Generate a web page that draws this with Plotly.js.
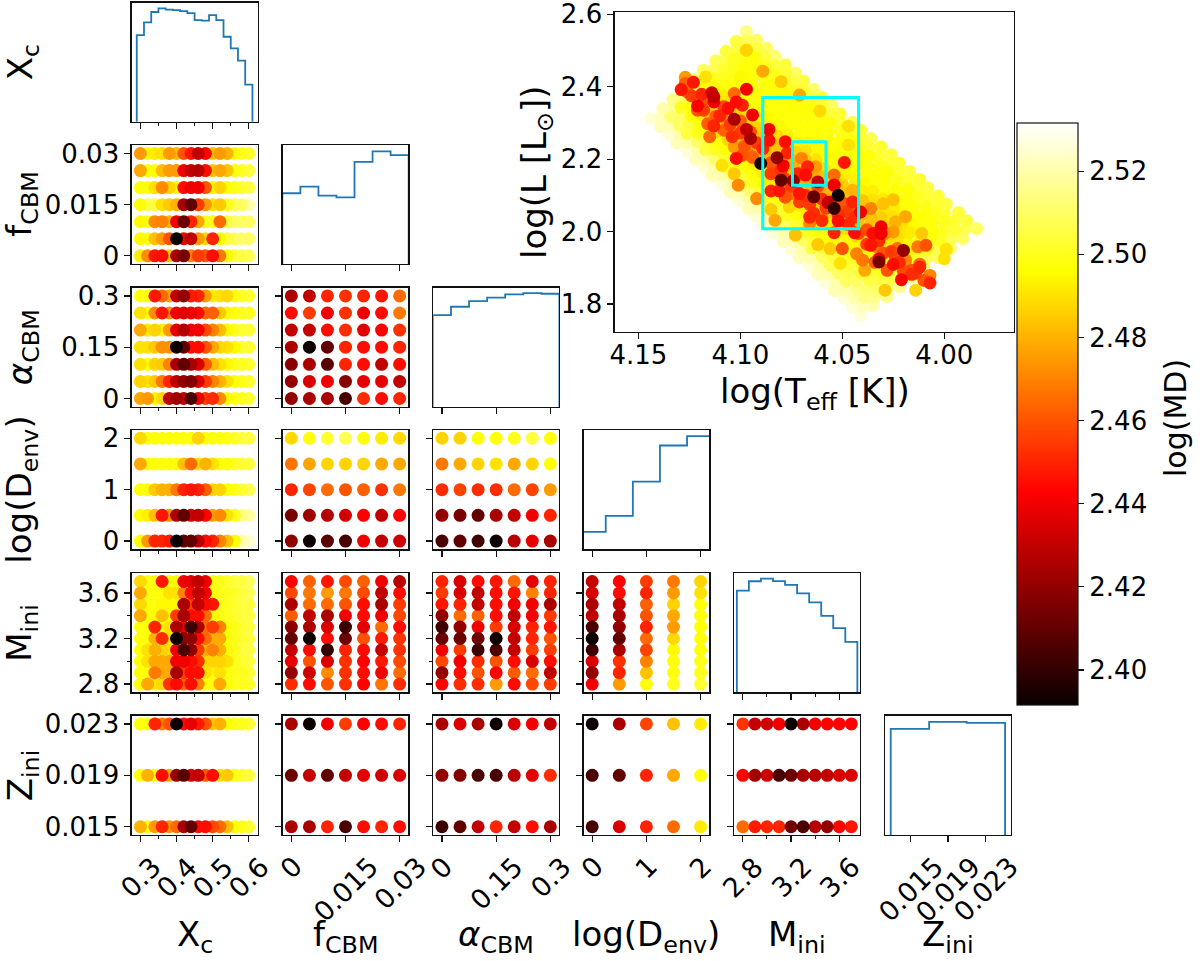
<!DOCTYPE html>
<html>
<head>
<meta charset="utf-8">
<script src="https://cdn.plot.ly/plotly-3.0.1.min.js"></script>
<style>html,body{margin:0;padding:0;background:#fff}#chart{width:1200px;height:961px}</style>
</head>
<body>
<div id="chart"></div>
<script>
// ---- grid values of each parameter ----
const xcGrid = [0.30,0.32,0.34,0.36,0.38,0.40,0.42,0.44,0.46,0.48,0.50,0.52,0.54,0.56,0.58,0.60];
const fGrid = [0,0.005,0.01,0.015,0.02,0.025,0.03];
const aGrid = [0,0.05,0.1,0.15,0.2,0.25,0.3];
const dGrid = [0,0.5,1,1.5,2];
const mGrid = [2.8,2.9,3.0,3.1,3.2,3.3,3.4,3.5,3.6,3.7];
const zGrid = [0.015,0.019,0.023];

// ---- log(MD) read per grid row; each row runs along the x-axis parameter, rows go up the y-axis ----
const fByXc = [
[2.492,2.472,2.447,2.445,2.485,2.425,2.415,2.47,2.455,2.46,2.445,2.468,2.495,2.505,2.506,2.508],
[2.495,2.5,2.483,2.475,2.46,2.392,2.44,2.43,2.475,2.488,2.45,2.495,2.505,2.51,2.51,2.51],
[2.495,2.5,2.472,2.47,2.48,2.44,2.412,2.45,2.478,2.5,2.5,2.465,2.505,2.51,2.51,2.51],
[2.496,2.508,2.505,2.49,2.485,2.48,2.425,2.41,2.455,2.475,2.49,2.485,2.5,2.508,2.51,2.52],
[2.497,2.497,2.49,2.472,2.487,2.495,2.445,2.44,2.44,2.46,2.495,2.487,2.497,2.5,2.503,2.505],
[2.478,2.497,2.497,2.482,2.475,2.475,2.44,2.43,2.428,2.445,2.485,2.478,2.484,2.498,2.502,2.505],
[2.475,2.495,2.492,2.49,2.475,2.482,2.46,2.447,2.43,2.443,2.484,2.475,2.48,2.495,2.5,2.502]];
const aByXc = [
[2.477,2.475,2.495,2.488,2.43,2.423,2.43,2.405,2.44,2.455,2.452,2.472,2.495,2.5,2.5,2.503],
[2.487,2.49,2.485,2.468,2.45,2.428,2.42,2.417,2.435,2.455,2.47,2.48,2.49,2.498,2.5,2.503],
[2.49,2.497,2.487,2.485,2.47,2.425,2.41,2.425,2.435,2.462,2.482,2.49,2.495,2.5,2.5,2.503],
[2.49,2.49,2.485,2.473,2.473,2.392,2.41,2.445,2.445,2.46,2.478,2.488,2.49,2.495,2.503,2.503],
[2.478,2.492,2.487,2.494,2.475,2.437,2.427,2.44,2.44,2.458,2.47,2.482,2.495,2.5,2.503,2.503],
[2.49,2.497,2.472,2.447,2.473,2.44,2.437,2.44,2.445,2.465,2.463,2.485,2.495,2.498,2.5,2.5],
[2.497,2.497,2.447,2.465,2.477,2.43,2.42,2.448,2.45,2.475,2.493,2.49,2.488,2.498,2.502,2.503]];
const dByXc = [
[2.497,2.475,2.45,2.45,2.448,2.392,2.41,2.41,2.428,2.445,2.45,2.47,2.483,2.497,2.52,2.525],
[2.497,2.493,2.483,2.447,2.475,2.425,2.41,2.432,2.43,2.443,2.478,2.472,2.49,2.5,2.515,2.518],
[2.497,2.497,2.485,2.48,2.48,2.468,2.45,2.447,2.45,2.462,2.487,2.487,2.497,2.5,2.503,2.507],
[2.478,2.497,2.497,2.497,2.497,2.497,2.483,2.465,2.49,2.48,2.49,2.497,2.497,2.502,2.503,2.505],
[2.488,2.497,2.497,2.497,2.497,2.497,2.497,2.497,2.487,2.497,2.497,2.497,2.5,2.502,2.505,2.505]];
const mByXc = [
[2.497,2.478,2.492,2.488,2.453,2.445,2.465,2.445,2.47,2.497,2.497,2.478,2.497,2.5,2.5,2.502],
[2.497,2.497,2.468,2.478,2.478,2.425,2.455,2.445,2.445,2.49,2.495,2.49,2.498,2.5,2.5,2.503],
[2.497,2.49,2.478,2.478,2.478,2.44,2.44,2.445,2.452,2.488,2.487,2.487,2.49,2.5,2.503,2.505],
[2.497,2.49,2.48,2.487,2.49,2.44,2.405,2.42,2.455,2.48,2.47,2.48,2.495,2.5,2.505,2.505],
[2.498,2.497,2.48,2.452,2.49,2.392,2.42,2.42,2.445,2.465,2.48,2.478,2.497,2.5,2.503,2.505],
[2.498,2.497,2.45,2.497,2.49,2.425,2.44,2.402,2.425,2.465,2.455,2.47,2.497,2.5,2.503,2.505],
[2.478,2.497,2.497,2.483,2.495,2.455,2.425,2.445,2.445,2.465,2.495,2.5,2.5,2.503,2.505,2.505],
[2.488,2.498,2.498,2.495,2.495,2.495,2.425,2.455,2.43,2.445,2.447,2.5,2.5,2.503,2.505,2.505],
[2.478,2.498,2.498,2.497,2.49,2.49,2.47,2.445,2.43,2.44,2.498,2.5,2.5,2.502,2.505,2.508],
[2.488,2.498,2.498,2.447,2.498,2.495,2.44,2.437,2.43,2.44,2.498,2.5,2.502,2.505,2.505,2.51]];
const zByXc = [
[2.48,2.497,2.475,2.45,2.475,2.465,2.425,2.41,2.445,2.445,2.458,2.465,2.482,2.497,2.5,2.503],
[2.497,2.48,2.497,2.445,2.478,2.42,2.408,2.435,2.43,2.462,2.445,2.49,2.485,2.5,2.503,2.505],
[2.497,2.497,2.45,2.47,2.46,2.392,2.445,2.438,2.448,2.46,2.485,2.48,2.497,2.5,2.5,2.503]];
const aByF = [
[2.42,2.425,2.425,2.405,2.452,2.445,2.45],
[2.42,2.435,2.44,2.418,2.438,2.437,2.43],
[2.418,2.425,2.408,2.45,2.445,2.43,2.445],
[2.425,2.392,2.41,2.45,2.445,2.445,2.45],
[2.43,2.43,2.445,2.452,2.437,2.442,2.453],
[2.445,2.455,2.44,2.453,2.44,2.445,2.468],
[2.425,2.43,2.45,2.453,2.45,2.447,2.465]];
const dByF = [
[2.42,2.392,2.408,2.405,2.44,2.43,2.432],
[2.415,2.423,2.427,2.433,2.442,2.43,2.443],
[2.45,2.457,2.465,2.46,2.463,2.453,2.468],
[2.467,2.477,2.487,2.487,2.487,2.478,2.478],
[2.488,2.497,2.503,2.507,2.497,2.492,2.488]];
const mByF = [
[2.452,2.445,2.46,2.453,2.443,2.467,2.452],
[2.42,2.432,2.472,2.453,2.445,2.44,2.465],
[2.437,2.46,2.435,2.453,2.443,2.448,2.458],
[2.43,2.445,2.4,2.45,2.445,2.43,2.453],
[2.41,2.392,2.445,2.412,2.46,2.448,2.453],
[2.418,2.425,2.435,2.402,2.437,2.465,2.445],
[2.462,2.43,2.425,2.44,2.445,2.44,2.458],
[2.425,2.465,2.465,2.46,2.445,2.425,2.455],
[2.458,2.468,2.475,2.468,2.458,2.43,2.445],
[2.443,2.463,2.447,2.458,2.463,2.44,2.428]];
const zByF = [
[2.425,2.425,2.45,2.405,2.445,2.45,2.445],
[2.412,2.43,2.41,2.43,2.437,2.432,2.435],
[2.425,2.392,2.44,2.455,2.443,2.445,2.45]];
const dByA = [
[2.405,2.41,2.403,2.392,2.428,2.438,2.425],
[2.42,2.415,2.41,2.425,2.43,2.44,2.45],
[2.452,2.457,2.452,2.452,2.465,2.457,2.475],
[2.468,2.478,2.487,2.49,2.478,2.487,2.497],
[2.487,2.487,2.497,2.497,2.5,2.505,2.497]];
const mByA = [
[2.443,2.452,2.452,2.475,2.445,2.458,2.455],
[2.42,2.445,2.46,2.443,2.462,2.465,2.43],
[2.458,2.44,2.452,2.46,2.445,2.435,2.445],
[2.44,2.455,2.402,2.405,2.43,2.455,2.455],
[2.412,2.412,2.412,2.392,2.43,2.45,2.46],
[2.403,2.42,2.44,2.455,2.435,2.45,2.447],
[2.42,2.465,2.463,2.445,2.43,2.44,2.455],
[2.447,2.45,2.43,2.445,2.44,2.44,2.425],
[2.455,2.435,2.43,2.445,2.447,2.47,2.45],
[2.45,2.435,2.445,2.447,2.465,2.437,2.45]];
const zByA = [
[2.402,2.41,2.43,2.45,2.43,2.445,2.425],
[2.42,2.417,2.405,2.405,2.428,2.437,2.452],
[2.425,2.435,2.425,2.392,2.435,2.44,2.43]];
const mByD = [
[2.44,2.475,2.497,2.5,2.503],
[2.42,2.45,2.483,2.497,2.5],
[2.435,2.453,2.47,2.497,2.5],
[2.402,2.425,2.457,2.495,2.497],
[2.392,2.41,2.465,2.488,2.497],
[2.405,2.42,2.45,2.475,2.497],
[2.43,2.425,2.46,2.478,2.497],
[2.425,2.43,2.463,2.487,2.497],
[2.435,2.445,2.45,2.475,2.49],
[2.43,2.443,2.455,2.468,2.487]];
const zByD = [
[2.405,2.435,2.45,2.465,2.492],
[2.405,2.41,2.45,2.478,2.497],
[2.392,2.425,2.457,2.483,2.492]];
const zByM = [
[2.465,2.448,2.45,2.45,2.413,2.405,2.427,2.42,2.443,2.447],
[2.443,2.423,2.432,2.405,2.412,2.425,2.428,2.43,2.435,2.435],
[2.453,2.43,2.433,2.44,2.392,2.425,2.44,2.443,2.443,2.443]];

// ---- marginal step histograms: bin edges and relative heights ----
const xcEdges = [0.29,0.31,0.33,0.35,0.37,0.39,0.41,0.43,0.45,0.47,0.49,0.51,0.53,0.55,0.57,0.59,0.61];
const xcHist = [0.728,0.835,0.922,0.952,0.941,0.938,0.93,0.913,0.854,0.849,0.896,0.854,0.714,0.616,0.513,0.311];
const fEdges = [-0.0025,0.0025,0.0075,0.0125,0.0175,0.0225,0.0275,0.0325];
const fHist = [0.596,0.652,0.576,0.562,0.86,0.948,0.917];
const aEdges = [-0.025,0.025,0.075,0.125,0.175,0.225,0.275,0.325];
const aHist = [0.77,0.84,0.888,0.916,0.944,0.955,0.949];
const dEdges = [-0.25,0.25,0.75,1.25,1.75,2.25];
const dHist = [0.146,0.281,0.567,0.87,0.949];
const mEdges = [2.75,2.85,2.95,3.05,3.15,3.25,3.35,3.45,3.55,3.65,3.75];
const mHist = [0.854,0.933,0.955,0.935,0.902,0.832,0.756,0.643,0.539,0.424];
const zEdges = [0.0129,0.017,0.021,0.0251];
const zHist = [0.889,0.948,0.94];

// ---- HR diagram: models ----
const hrdTeff = [
4.144,4.138,4.133,4.128,4.123,4.118,4.112,4.107,4.102,4.097,
4.139,4.134,4.129,4.124,4.118,4.113,4.108,4.103,4.097,4.092,
4.135,4.130,4.124,4.119,4.114,4.108,4.103,4.098,4.093,4.087,
4.131,4.126,4.120,4.115,4.110,4.104,4.099,4.094,4.088,4.083,
4.126,4.121,4.116,4.110,4.105,4.099,4.094,4.088,4.083,4.078,
4.122,4.117,4.111,4.106,4.100,4.095,4.090,4.084,4.079,4.073,
4.118,4.113,4.107,4.102,4.096,4.091,4.085,4.080,4.074,4.069,
4.114,4.108,4.103,4.097,4.092,4.086,4.081,4.075,4.070,4.064,
4.109,4.104,4.098,4.093,4.087,4.082,4.076,4.071,4.065,4.060,
4.105,4.099,4.094,4.088,4.083,4.077,4.071,4.066,4.060,4.055,
4.101,4.095,4.090,4.084,4.079,4.073,4.067,4.062,4.056,4.051,
4.096,4.091,4.085,4.079,4.073,4.068,4.062,4.056,4.051,4.045,
4.092,4.086,4.081,4.075,4.069,4.064,4.058,4.052,4.046,4.041,
4.088,4.082,4.076,4.071,4.065,4.059,4.053,4.047,4.042,4.036,
4.084,4.078,4.072,4.066,4.060,4.055,4.049,4.043,4.037,4.031,
4.079,4.073,4.067,4.061,4.056,4.050,4.044,4.038,4.032,4.026,
4.075,4.069,4.063,4.057,4.051,4.045,4.040,4.034,4.028,4.022,
4.071,4.065,4.059,4.053,4.047,4.041,4.035,4.029,4.023,4.017,
4.066,4.060,4.054,4.048,4.042,4.036,4.030,4.024,4.018,4.012,
4.062,4.056,4.050,4.044,4.038,4.032,4.026,4.020,4.014,4.008,
4.058,4.052,4.046,4.040,4.033,4.027,4.021,4.015,4.009,4.003,
4.054,4.048,4.041,4.035,4.029,4.023,4.017,4.011,4.005,3.999,
4.049,4.043,4.037,4.031,4.024,4.018,4.012,4.006,4.000,3.993,
4.045,4.039,4.033,4.026,4.020,4.014,4.008,4.002,3.995,3.989,
4.041,4.035,4.028,4.022,4.016,4.010,4.003,3.997,3.991,3.984,
// between the tracks
4.139,4.133,4.128,4.123,4.118,4.113,4.107,4.102,4.097,
4.134,4.129,4.124,4.119,4.113,4.108,4.103,4.098,4.092,
4.130,4.125,4.119,4.114,4.109,4.103,4.098,4.093,4.088,
4.126,4.121,4.115,4.110,4.105,4.099,4.094,4.089,4.083,
4.121,4.116,4.111,4.105,4.100,4.094,4.089,4.083,4.078,
4.117,4.112,4.106,4.101,4.095,4.090,4.085,4.079,4.074,
4.113,4.108,4.102,4.097,4.091,4.086,4.080,4.075,4.069,
4.109,4.103,4.098,4.092,4.087,4.081,4.076,4.070,4.065,
4.104,4.099,4.093,4.088,4.082,4.077,4.071,4.066,4.060,
4.100,4.094,4.089,4.083,4.078,4.072,4.066,4.061,4.055,
4.096,4.090,4.085,4.079,4.074,4.068,4.062,4.057,4.051,
4.091,4.086,4.080,4.074,4.068,4.063,4.057,4.051,4.046,
4.087,4.081,4.076,4.070,4.064,4.059,4.053,4.047,4.041,
4.083,4.077,4.071,4.066,4.060,4.054,4.048,4.042,4.037,
4.079,4.073,4.067,4.061,4.055,4.050,4.044,4.038,4.032,
4.074,4.068,4.062,4.056,4.051,4.045,4.039,4.033,4.027,
4.070,4.064,4.058,4.052,4.046,4.040,4.035,4.029,4.023,
4.066,4.060,4.054,4.048,4.042,4.036,4.030,4.024,4.018,
4.061,4.055,4.049,4.043,4.037,4.031,4.025,4.019,4.013,
4.057,4.051,4.045,4.039,4.033,4.027,4.021,4.015,4.009,
4.053,4.047,4.041,4.035,4.028,4.022,4.016,4.010,4.004,
4.049,4.043,4.036,4.030,4.024,4.018,4.012,4.006,4.000,
4.044,4.038,4.032,4.026,4.019,4.013,4.007,4.001,3.995,
4.040,4.034,4.028,4.021,4.015,4.009,4.003,3.997,3.990,
// amber
4.097,4.089,4.080,4.071,4.061,4.047,4.047,4.109,4.103,4.101,4.092,4.085,4.083,4.073,4.062,4.056,4.030,4.025,4.019,4.024,4.011,3.999,4.000,4.029,4.014,4.039,4.051,4.076,4.117,4.100,
// orange
4.127,4.127,4.126,4.121,4.116,4.115,4.109,4.108,4.103,4.104,4.103,4.099,4.095,4.084,4.080,4.070,4.071,4.063,4.075,4.071,4.064,4.066,4.060,4.054,4.054,4.049,4.050,4.043,4.045,4.036,4.043,4.040,4.033,4.029,4.025,4.023,4.028,4.024,4.019,4.013,4.009,4.016,4.007,
// red
4.129,4.123,4.119,4.121,4.113,4.114,4.110,4.113,4.106,4.102,4.099,4.097,4.094,4.102,4.086,4.086,4.089,4.078,4.077,4.079,4.085,4.081,4.071,4.067,4.068,4.072,4.049,4.056,4.052,4.054,4.047,4.044,4.045,4.041,4.035,4.031,4.031,4.036,4.025,4.021,4.016,4.012,4.007,4.054,
// dark
4.103,4.113,4.097,4.095,4.090,4.082,4.080,4.074,4.062,4.064,4.052,4.054,4.057,4.032,4.020,4.032,
// ridge, orange-red
4.124,4.118,4.118,4.112,4.108,4.105,4.100,4.100,4.095,4.092,4.098,4.094,4.085,
4.085,4.080,4.078,4.072,4.075,4.068,4.078,4.062,4.066,4.060,4.058,4.066,4.060,4.050,4.052,4.048,4.044,
4.042,4.038,4.038,4.032,4.030,4.026,4.034,4.022,4.020,4.014,4.012,4.010];
const hrdLogL = [
2.312,2.339,2.365,2.392,2.419,2.445,2.472,2.498,2.525,2.552,
2.290,2.316,2.343,2.370,2.396,2.423,2.449,2.476,2.503,2.529,
2.267,2.294,2.320,2.347,2.373,2.400,2.427,2.453,2.480,2.506,
2.244,2.271,2.297,2.324,2.351,2.377,2.404,2.430,2.457,2.484,
2.222,2.248,2.275,2.301,2.328,2.355,2.381,2.408,2.435,2.461,
2.199,2.226,2.252,2.279,2.305,2.332,2.359,2.385,2.412,2.438,
2.176,2.203,2.229,2.256,2.283,2.309,2.336,2.362,2.389,2.416,
2.154,2.180,2.207,2.233,2.260,2.287,2.313,2.340,2.367,2.393,
2.131,2.158,2.184,2.211,2.237,2.264,2.291,2.317,2.344,2.370,
2.108,2.135,2.161,2.188,2.215,2.241,2.268,2.294,2.321,2.348,
2.086,2.112,2.139,2.165,2.192,2.219,2.245,2.272,2.299,2.325,
2.063,2.090,2.116,2.143,2.169,2.196,2.223,2.249,2.276,2.302,
2.040,2.067,2.093,2.120,2.147,2.173,2.200,2.226,2.253,2.280,
2.018,2.044,2.071,2.097,2.124,2.151,2.177,2.204,2.231,2.257,
1.995,2.022,2.048,2.075,2.101,2.128,2.155,2.181,2.208,2.234,
1.972,1.999,2.025,2.052,2.079,2.105,2.132,2.158,2.185,2.212,
1.950,1.976,2.003,2.029,2.056,2.083,2.109,2.136,2.163,2.189,
1.927,1.954,1.980,2.007,2.033,2.060,2.087,2.113,2.140,2.166,
1.904,1.931,1.957,1.984,2.011,2.037,2.064,2.090,2.117,2.144,
1.882,1.908,1.935,1.961,1.988,2.015,2.041,2.068,2.095,2.121,
1.859,1.886,1.912,1.939,1.965,1.992,2.019,2.045,2.072,2.098,
1.836,1.863,1.889,1.916,1.943,1.969,1.996,2.022,2.049,2.076,
1.814,1.840,1.867,1.893,1.920,1.947,1.973,2.000,2.027,2.053,
1.791,1.818,1.844,1.871,1.897,1.924,1.951,1.977,2.004,2.030,
1.768,1.795,1.821,1.848,1.875,1.901,1.928,1.954,1.981,2.008,
// between the tracks
2.314,2.341,2.367,2.394,2.421,2.447,2.474,2.500,2.527,
2.292,2.318,2.345,2.372,2.398,2.425,2.451,2.478,2.505,
2.269,2.296,2.322,2.349,2.375,2.402,2.429,2.455,2.482,
2.246,2.273,2.299,2.326,2.353,2.379,2.406,2.432,2.459,
2.224,2.250,2.277,2.303,2.330,2.357,2.383,2.410,2.437,
2.201,2.228,2.254,2.281,2.307,2.334,2.361,2.387,2.414,
2.178,2.205,2.231,2.258,2.285,2.311,2.338,2.364,2.391,
2.156,2.182,2.209,2.235,2.262,2.289,2.315,2.342,2.369,
2.133,2.160,2.186,2.213,2.239,2.266,2.293,2.319,2.346,
2.110,2.137,2.163,2.190,2.217,2.243,2.270,2.296,2.323,
2.088,2.114,2.141,2.167,2.194,2.221,2.247,2.274,2.301,
2.065,2.092,2.118,2.145,2.171,2.198,2.225,2.251,2.278,
2.042,2.069,2.095,2.122,2.149,2.175,2.202,2.228,2.255,
2.020,2.046,2.073,2.099,2.126,2.153,2.179,2.206,2.233,
1.997,2.024,2.050,2.077,2.103,2.130,2.157,2.183,2.210,
1.974,2.001,2.027,2.054,2.081,2.107,2.134,2.160,2.187,
1.952,1.978,2.005,2.031,2.058,2.085,2.111,2.138,2.165,
1.929,1.956,1.982,2.009,2.035,2.062,2.089,2.115,2.142,
1.906,1.933,1.959,1.986,2.013,2.039,2.066,2.092,2.119,
1.884,1.910,1.937,1.963,1.990,2.017,2.043,2.070,2.097,
1.861,1.888,1.914,1.941,1.967,1.994,2.021,2.047,2.074,
1.838,1.865,1.891,1.918,1.945,1.971,1.998,2.024,2.051,
1.816,1.842,1.869,1.895,1.922,1.949,1.975,2.002,2.029,
1.793,1.820,1.846,1.873,1.899,1.926,1.953,1.979,2.006,
// amber
2.501,2.443,2.414,2.377,2.333,2.291,2.239,2.183,2.160,2.128,2.091,2.061,2.031,1.990,1.964,1.953,2.077,2.088,2.041,2.027,1.995,1.951,1.925,1.838,1.838,1.893,1.912,2.068,2.427,2.427,
// orange
2.426,2.409,2.386,2.335,2.298,2.262,2.317,2.280,2.381,2.262,2.234,2.211,2.211,2.165,2.123,2.202,2.160,2.179,2.105,2.082,2.050,2.022,2.036,2.156,2.128,2.054,1.953,2.050,2.114,2.064,1.939,1.921,1.958,1.995,1.999,1.953,1.893,1.930,1.921,1.958,1.962,1.893,1.879,
// red
2.392,2.412,2.379,2.347,2.358,2.383,2.320,2.292,2.340,2.358,2.349,2.393,2.322,2.202,2.282,2.252,2.229,2.248,2.217,2.182,2.112,2.112,2.105,2.179,2.156,2.160,2.191,2.082,2.029,1.997,2.020,1.997,2.082,2.054,1.995,2.013,1.995,1.962,1.909,1.867,1.882,1.902,1.858,2.128,
// dark
2.310,2.372,2.282,2.257,2.188,2.204,2.142,2.140,2.137,2.096,2.100,2.064,2.080,1.916,1.948,1.925,
// ridge, orange-red
2.375,2.365,2.335,2.318,2.345,2.295,2.305,2.272,2.275,2.245,2.235,2.205,2.190,
2.160,2.170,2.145,2.155,2.125,2.100,2.095,2.125,2.075,2.090,2.065,2.040,2.030,2.080,2.045,2.055,2.040,
1.995,2.005,1.965,1.975,1.940,1.945,1.915,1.915,1.890,1.885,1.910,1.865];
const hrdLogMD = [
2.526,2.52,2.515,2.51,2.508,2.508,2.508,2.505,2.505,2.515,
2.522,2.512,2.5,2.497,2.497,2.5,2.503,2.5,2.5,2.51,
2.526,2.51,2.497,2.49,2.49,2.497,2.5,2.497,2.497,2.51,
2.522,2.505,2.497,2.485,2.488,2.495,2.497,2.497,2.5,2.512,
2.526,2.51,2.497,2.485,2.485,2.495,2.497,2.497,2.5,2.505,
2.522,2.505,2.497,2.482,2.484,2.495,2.497,2.497,2.5,2.51,
2.526,2.512,2.497,2.485,2.483,2.493,2.497,2.497,2.5,2.505,
2.522,2.505,2.497,2.487,2.483,2.49,2.497,2.497,2.5,2.51,
2.526,2.51,2.497,2.49,2.482,2.488,2.497,2.497,2.497,2.503,
2.522,2.505,2.497,2.49,2.483,2.487,2.497,2.497,2.5,2.51,
2.526,2.51,2.497,2.49,2.482,2.487,2.495,2.497,2.497,2.503,
2.522,2.505,2.497,2.49,2.48,2.485,2.495,2.497,2.5,2.508,
2.526,2.51,2.497,2.49,2.48,2.485,2.495,2.497,2.497,2.503,
2.522,2.505,2.497,2.49,2.48,2.483,2.495,2.497,2.5,2.507,
2.526,2.51,2.497,2.49,2.482,2.483,2.493,2.497,2.497,2.503,
2.522,2.505,2.497,2.49,2.483,2.483,2.493,2.497,2.5,2.505,
2.526,2.51,2.497,2.492,2.483,2.482,2.492,2.497,2.497,2.503,
2.522,2.505,2.497,2.492,2.485,2.482,2.49,2.497,2.5,2.505,
2.526,2.51,2.5,2.495,2.487,2.483,2.49,2.497,2.497,2.503,
2.522,2.508,2.5,2.495,2.488,2.485,2.49,2.497,2.5,2.505,
2.526,2.51,2.503,2.497,2.49,2.487,2.49,2.497,2.5,2.503,
2.522,2.51,2.502,2.497,2.492,2.49,2.492,2.497,2.5,2.505,
2.526,2.515,2.505,2.5,2.495,2.493,2.495,2.497,2.5,2.505,
2.526,2.515,2.51,2.505,2.5,2.5,2.5,2.5,2.503,2.505,
2.526,2.52,2.515,2.515,2.512,2.51,2.51,2.51,2.51,2.51,
// between the tracks
2.522,2.518,2.512,2.51,2.508,2.508,2.506,2.505,2.508,
2.522,2.51,2.497,2.492,2.495,2.5,2.5,2.5,2.505,
2.52,2.505,2.492,2.488,2.492,2.497,2.497,2.497,2.505,
2.52,2.5,2.488,2.483,2.49,2.497,2.497,2.497,2.505,
2.52,2.503,2.488,2.483,2.488,2.497,2.497,2.497,2.503,
2.52,2.5,2.488,2.48,2.488,2.497,2.497,2.497,2.505,
2.52,2.503,2.49,2.48,2.486,2.495,2.497,2.497,2.503,
2.52,2.5,2.492,2.48,2.485,2.495,2.497,2.497,2.505,
2.52,2.503,2.492,2.48,2.483,2.493,2.497,2.497,2.503,
2.52,2.5,2.492,2.48,2.483,2.493,2.497,2.497,2.505,
2.52,2.503,2.492,2.482,2.48,2.49,2.497,2.497,2.503,
2.52,2.5,2.492,2.482,2.478,2.49,2.497,2.497,2.503,
2.52,2.503,2.492,2.484,2.478,2.49,2.495,2.497,2.503,
2.52,2.5,2.492,2.484,2.478,2.488,2.495,2.497,2.503,
2.52,2.503,2.492,2.486,2.48,2.486,2.495,2.497,2.503,
2.52,2.5,2.492,2.486,2.48,2.486,2.495,2.497,2.503,
2.52,2.503,2.495,2.488,2.48,2.484,2.493,2.497,2.503,
2.52,2.503,2.495,2.488,2.482,2.484,2.492,2.497,2.503,
2.52,2.505,2.497,2.49,2.484,2.486,2.492,2.497,2.503,
2.52,2.505,2.497,2.492,2.486,2.488,2.492,2.497,2.503,
2.52,2.507,2.5,2.495,2.49,2.49,2.495,2.497,2.503,
2.52,2.51,2.503,2.497,2.495,2.495,2.495,2.497,2.503,
2.52,2.512,2.505,2.503,2.5,2.5,2.5,2.5,2.503,
2.522,2.515,2.512,2.51,2.508,2.507,2.507,2.507,2.507,
// amber
2.487,2.478,2.485,2.478,2.488,2.49,2.49,2.49,2.485,2.472,2.472,2.485,2.478,2.483,2.485,2.485,2.483,2.483,2.478,2.48,2.485,2.49,2.49,2.485,2.487,2.478,2.49,2.487,2.49,2.495,
// orange
2.475,2.462,2.465,2.46,2.462,2.465,2.47,2.463,2.465,2.452,2.475,2.46,2.47,2.47,2.472,2.47,2.465,2.475,2.465,2.455,2.452,2.47,2.47,2.465,2.458,2.465,2.46,2.465,2.48,2.47,2.47,2.468,2.47,2.472,2.475,2.465,2.46,2.46,2.47,2.468,2.46,2.46,2.47,
// red
2.447,2.447,2.45,2.442,2.44,2.435,2.45,2.45,2.445,2.445,2.45,2.44,2.44,2.445,2.44,2.445,2.45,2.445,2.45,2.44,2.45,2.447,2.447,2.45,2.445,2.45,2.447,2.44,2.445,2.45,2.45,2.445,2.45,2.44,2.445,2.44,2.44,2.447,2.445,2.443,2.452,2.45,2.45,2.44,
// dark
2.425,2.43,2.43,2.425,2.395,2.42,2.41,2.42,2.43,2.41,2.392,2.4,2.43,2.415,2.42,2.44,
// ridge, orange-red
2.455,2.46,2.455,2.462,2.458,2.455,2.462,2.455,2.46,2.455,2.46,2.462,2.46,
2.455,2.452,2.458,2.46,2.455,2.452,2.46,2.458,2.455,2.452,2.455,2.45,2.452,2.46,2.452,2.455,2.452,
2.458,2.46,2.455,2.452,2.46,2.455,2.462,2.452,2.458,2.455,2.465,2.46];

// cyan boxes on the HR diagram: [Teff hot, Teff cool, logL low, logL high]
const outerBox = [4.089,4.042,2.008,2.370];
const innerBox = [4.0744,4.058,2.128,2.248];

// ---- ticks and labels ----
const colorTicks = [2.40,2.42,2.44,2.46,2.48,2.50,2.52];
const colorTickText = ['2.40','2.42','2.44','2.46','2.48','2.50','2.52'];
const hrdXTicks = [4.15,4.10,4.05,4.00];
const hrdXText = ['4.15','4.10','4.05','4.00'];
const hrdYTicks = [1.8,2.0,2.2,2.4,2.6];
const hrdYText = ['1.8','2.0','2.2','2.4','2.6'];
const paramNames = ['X<sub>c</sub>','f<sub>CBM</sub>','<i>α</i><sub>CBM</sub>','log(D<sub>env</sub>)','M<sub>ini</sub>','Z<sub>ini</sub>'];
const paramTicks = [[0.3,0.4,0.5,0.6],[0,0.015,0.03],[0,0.15,0.3],[0,1,2],[2.8,3.2,3.6],[0.015,0.019,0.023]];
const paramTickText = [['0.3','0.4','0.5','0.6'],['0','0.015','0.03'],['0','0.15','0.3'],['0','1','2'],['2.8','3.2','3.6'],['0.015','0.019','0.023']];
const paramMinor = [[0.35,0.45,0.55],[],[],[],[3.0,3.4],[]];
const paramGrid = [xcGrid,fGrid,aGrid,dGrid,mGrid,zGrid];
const paramRange = [[0.276,0.624],[-0.0024,0.0324],[-0.024,0.324],[-0.16,2.16],[2.728,3.772],[0.01229,0.0257]];
const yRange = [null,[-0.0024,0.0324],[-0.024,0.324],[-0.16,2.16],[2.728,3.772],[0.01436,0.02364]];
const histEdges = [xcEdges,fEdges,aEdges,dEdges,mEdges,zEdges];
const histVals = [xcHist,fHist,aHist,dHist,mHist,zHist];
const tables = {'1,0':fByXc,'2,0':aByXc,'3,0':dByXc,'4,0':mByXc,'5,0':zByXc,'2,1':aByF,'3,1':dByF,'4,1':mByF,'5,1':zByF,'3,2':dByA,'4,2':mByA,'5,2':zByA,'4,3':mByD,'5,3':zByD,'5,4':zByM};

// ---- layout geometry (pixels in the 1200x961 page) ----
const W = 1200, H = 961;
const colPx = [[131.7,257.5],[282.7,408.3],[433.3,559],[583.5,709.3],[734.2,860],[885,1010.7]];
const rowPx = [[2.7,121.7],[145.3,264],[287.7,406.7],[430,549.3],[573.3,692.3],[715.7,835]];
const hrdPx = {x:[614.7,1014],y:[12.3,331.7]};
const INK = '#111';
const FONT = '"DejaVu Sans", sans-serif';
const tickFs = 26, rotFs = 27, titleFs = 34;
const domX = p => [p[0]/W, p[1]/W];
const domY = p => [1-p[1]/H, 1-p[0]/H];

const hotScale = [[0,'rgb(10,0,0)'],[0.365079,'rgb(255,0,0)'],[0.746032,'rgb(255,255,0)'],[1,'rgb(255,255,255)']];
const layout = {
  width:W, height:H, showlegend:false, paper_bgcolor:'#fff', plot_bgcolor:'#fff',
  margin:{l:0,r:0,t:0,b:0,pad:0}, font:{family:FONT,color:'#000',size:tickFs},
  coloraxis:{cmin:2.3916,cmax:2.5316,colorscale:hotScale,
    colorbar:{x:1017/W,xanchor:'left',y:1-122.9/H,yanchor:'top',xpad:0,ypad:0,
      thicknessmode:'pixels',thickness:61,lenmode:'pixels',len:582,
      outlinecolor:INK,outlinewidth:1.2,ticks:'outside',ticklen:6,tickwidth:1.2,tickcolor:INK,
      tickmode:'array',tickvals:colorTicks,ticktext:colorTickText,tickfont:{size:tickFs,family:FONT}}},
  annotations:[], shapes:[]
};
const data = [];
function note(text,x,y,xref,yref,size,angle,xa,ya){
  layout.annotations.push({text,x,y,xref,yref,showarrow:false,textangle:angle||0,
    font:{size,family:FONT,color:'#000'},xanchor:xa||'center',yanchor:ya||'middle',borderpad:0,borderwidth:0});
}
function baseAxis(extra){
  return Object.assign({showgrid:false,zeroline:false,showline:true,mirror:true,linecolor:INK,linewidth:1.3,
    ticks:'outside',ticklen:6,tickwidth:1.2,tickcolor:INK,tickmode:'array',tickfont:{size:tickFs,family:FONT},fixedrange:true},extra);
}
let n = 0;
for(let r=0;r<6;r++){
  for(let c=0;c<=r;c++){
    n++;
    const xa = 'x'+n, ya = 'y'+n;
    const isDiag = r===c;
    layout['xaxis'+n] = baseAxis({domain:domX(colPx[c]),range:paramRange[c],anchor:ya,
      tickvals:paramTicks[c],ticktext:paramTickText[c],showticklabels:false,
      minor:{tickmode:'array',tickvals:paramMinor[c],ticks:'outside',ticklen:3,tickwidth:1,tickcolor:INK,showgrid:false}});
    if(isDiag){
      layout['yaxis'+n] = baseAxis({domain:domY(rowPx[r]),range:[0,1],anchor:xa,ticks:'',showticklabels:false});
      const ed = histEdges[c], hv = histVals[c];
      const hx = [ed[0]], hy = [0];
      hv.forEach((v,i)=>{hx.push(ed[i]);hy.push(v);});
      hx.push(ed[ed.length-1]);hy.push(hv[hv.length-1]);
      hx.push(ed[ed.length-1]);hy.push(0);
      data.push({type:'scatter',mode:'lines',x:hx,y:hy,xaxis:xa,yaxis:ya,line:{color:'#1f77b4',width:1.8,shape:'hv'},hoverinfo:'skip'});
    } else {
      layout['yaxis'+n] = baseAxis({domain:domY(rowPx[r]),range:yRange[r],anchor:xa,
        tickvals:paramTicks[r],ticktext:paramTickText[r],showticklabels:c===0,
        minor:{tickmode:'array',tickvals:paramMinor[r],ticks:'outside',ticklen:3,tickwidth:1,tickcolor:INK,showgrid:false}});
      const table = tables[r+','+c], pts = [];
      table.forEach((row,i)=>row.forEach((v,j)=>pts.push([paramGrid[c][j],paramGrid[r][i],v])));
      pts.sort((a,b)=>b[2]-a[2]);
      data.push({type:'scatter',mode:'markers',x:pts.map(p=>p[0]),y:pts.map(p=>p[1]),xaxis:xa,yaxis:ya,
        marker:{size:13,color:pts.map(p=>p[2]),coloraxis:'coloraxis',line:{width:0}},hoverinfo:'skip'});
    }
    if(r===5){
      paramTicks[c].forEach((t,i)=>note(paramTickText[c][i],t,1-851/H,xa,'paper',rotFs,-45,'center','top'));
      note(paramNames[c],(colPx[c][0]+colPx[c][1])/2/W,1-936/H,'paper','paper',titleFs);
    }
  }
  note(paramNames[r],22/W,1-(rowPx[r][0]+rowPx[r][1])/2/H,'paper','paper',titleFs,-90);
}
// HR diagram
n++;
layout['xaxis'+n] = baseAxis({domain:domX(hrdPx.x),range:[4.1616,3.9658],anchor:'y'+n,tickvals:hrdXTicks,ticktext:hrdXText,ticklabelstandoff:-6});
layout['yaxis'+n] = baseAxis({domain:domY(hrdPx.y),range:[1.7235,2.6055],anchor:'x'+n,tickvals:hrdYTicks,ticktext:hrdYText,ticklabeloverflow:'allow'});
const order = hrdLogMD.map((v,i)=>i).sort((a,b)=>hrdLogMD[b]-hrdLogMD[a]);
data.push({type:'scatter',mode:'markers',x:order.map(i=>hrdTeff[i]),y:order.map(i=>hrdLogL[i]),
  xaxis:'x'+n,yaxis:'y'+n,marker:{size:13,color:order.map(i=>hrdLogMD[i]),coloraxis:'coloraxis',line:{width:0}},hoverinfo:'skip'});
[outerBox,innerBox].forEach(b=>layout.shapes.push({type:'rect',xref:'x'+n,yref:'y'+n,x0:b[0],x1:b[1],y0:b[2],y1:b[3],line:{color:'#00ffff',width:3},layer:'above'}));
note('log(T<sub>eff</sub> [K])',815/W,1-393/H,'paper','paper',titleFs);
note('log(L [L<sub>⊙</sub>])',537/W,1-172/H,'paper','paper',titleFs,-90);
note('log(MD)',1175/W,1-418/H,'paper','paper',30,-90);

Plotly.newPlot('chart',data,layout,{displayModeBar:false,staticPlot:true});
</script>
</body>
</html>
